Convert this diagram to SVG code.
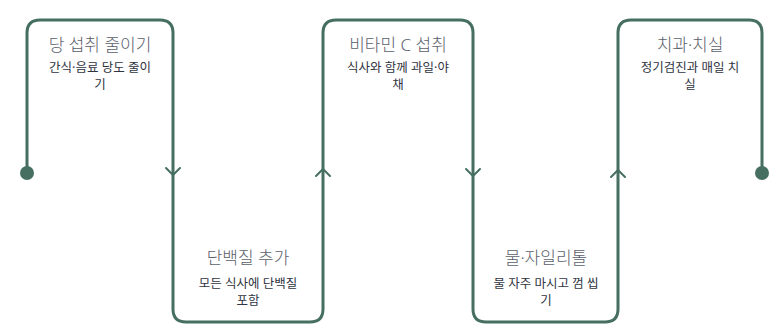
<svg xmlns="http://www.w3.org/2000/svg" width="783" height="333" viewBox="0 0 783 333">
<style>
.line{fill:none;stroke:#466f62;stroke-width:3;stroke-linejoin:round;stroke-linecap:round}
.arr{fill:none;stroke:#466f62;stroke-width:2;stroke-linecap:round;stroke-linejoin:round}
.dot{fill:#466f62}
.t{font-family:"Noto Sans","Noto Sans CJK KR",sans-serif;font-size:17px;font-weight:300;fill:#5b606b;text-anchor:middle}
.s{font-family:"Noto Sans","Noto Sans CJK KR",sans-serif;font-size:12.5px;font-weight:400;fill:#30343f;text-anchor:middle}
</style>
<rect width="783" height="333" fill="#ffffff"/>
<g id="connectors">
<path class="line" d="M27,173 V33 Q27,20 40,20 H160 Q173,20 173,33 V309 Q173,322 186,322 H310 Q323,322 323,309 V33 Q323,20 336,20 H460 Q473,20 473,33 V309 Q473,322 486,322 H605 Q618,322 618,309 V33 Q618,20 631,20 H749 Q762,20 762,33 V173"/>
<circle class="dot" cx="27" cy="173" r="7"/>
<circle class="dot" cx="762" cy="173" r="7"/>
<polyline class="arr" points="166,168 173,175 180,168"/>
<polyline class="arr" points="316,176 323,169 330,176"/>
<polyline class="arr" points="466,169 473,176 480,169"/>
<polyline class="arr" points="611,177 618,170 625,177"/>
</g>
<g id="node1">
<text class="t" x="100" y="51">당 섭취 줄이기</text>
<text class="s" x="100" y="72">간식·음료 당도 줄이</text>
<text class="s" x="100" y="89">기</text>
</g>
<g id="node2">
<text class="t" x="248" y="264">단백질 추가</text>
<text class="s" x="248" y="288">모든 식사에 단백질</text>
<text class="s" x="248" y="305">포함</text>
</g>
<g id="node3">
<text class="t" x="398" y="51">비타민 C 섭취</text>
<text class="s" x="398" y="72">식사와 함께 과일·야</text>
<text class="s" x="398" y="89">채</text>
</g>
<g id="node4">
<text class="t" x="546" y="264">물·자일리톨</text>
<text class="s" x="546" y="288">물 자주 마시고 껌 씹</text>
<text class="s" x="546" y="305">기</text>
</g>
<g id="node5">
<text class="t" x="690" y="51">치과·치실</text>
<text class="s" x="690" y="72">정기검진과 매일 치</text>
<text class="s" x="690" y="89">실</text>
</g>
</svg>
